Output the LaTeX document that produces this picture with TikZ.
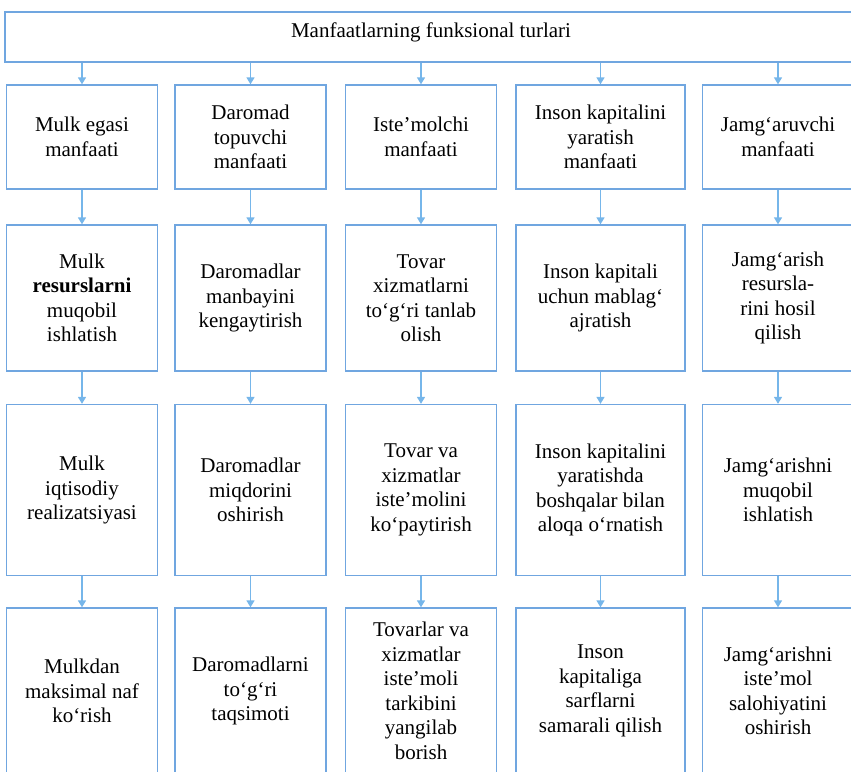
\documentclass[tikz,border=0pt]{standalone}
\usepackage{fontspec}
\setmainfont{Liberation Serif}
\usetikzlibrary{arrows.meta,positioning}
\definecolor{boxblue}{RGB}{112,166,224}
\definecolor{arrowblue}{RGB}{118,182,234}
\tikzset{
	box/.style={draw=boxblue, line width=1.3pt, fill=white, align=center, inner sep=2pt, minimum width=151pt, font=\fontsize{21}{24.5}\selectfont},
	wide/.style={minimum width=169pt},
	rowa/.style={box, minimum height=104pt},
	rowb/.style={box, minimum height=146pt},
	rowc/.style={box, minimum height=171pt},
	rowd/.style={box, minimum height=166pt},
	diredge/.style={-{Triangle[width=8pt,length=7pt]}, color=arrowblue, line width=1.4pt}
}

\begin{document}
\begin{tikzpicture}[x=1pt,y=-1pt]
	\useasboundingbox (0,0) rectangle (851,771);
	\clip (0,0) rectangle (851,771);
	
	\node[box, minimum width=852pt, minimum height=50pt, text depth=13pt] (t) at (431,37) {Manfaatlarning funksional turlari};
	
	% first row
	\node[rowa] (a1) at (82,137) {Mulk egasi\\manfaati};
	\node[rowa] (a2) at (250.5,137) {Daromad\\topuvchi\\manfaati};
	\node[rowa] (a3) at (421,137) {Iste’molchi\\manfaati};
	\node[rowa,wide] (a4) at (600.5,137) {Inson kapitalini\\yaratish\\manfaati};
	\node[rowa] (a5) at (778,137) {Jamg‘aruvchi\\manfaati};
	
	% second row
	\node[rowb] (b1) at (82,298) {Mulk\\\textbf{resurslarni}\\muqobil\\ishlatish};
	\node[rowb] (b2) at (250.5,298) {Daromadlar\\manbayini\\kengaytirish};
	\node[rowb] (b3) at (421,298) {Tovar\\xizmatlarni\\to‘g‘ri tanlab\\olish};
	\node[rowb,wide] (b4) at (600.5,298) {Inson kapitali\\uchun mablag‘\\ajratish};
	\node[rowb] (b5) at (778,298) {Jamg‘arish\\resursla-\\rini hosil\\qilish};
	
	% third row
	\node[rowc] (c1) at (82,490) {Mulk\\iqtisodiy\\realizatsiyasi};
	\node[rowc] (c2) at (250.5,490) {Daromadlar\\miqdorini\\oshirish};
	\node[rowc] (c3) at (421,490) {Tovar va\\xizmatlar\\iste’molini\\ko‘paytirish};
	\node[rowc,wide] (c4) at (600.5,490) {Inson kapitalini\\yaratishda\\boshqalar bilan\\aloqa o‘rnatish};
	\node[rowc] (c5) at (778,490) {Jamg‘arishni\\muqobil\\ishlatish};
	
	% fourth row
	\node[rowd] (d1) at (82,691) {Mulkdan\\maksimal naf\\ko‘rish};
	\node[rowd] (d2) at (250.5,691) {Daromadlarni\\to‘g‘ri\\taqsimoti};
	\node[rowd] (d3) at (421,691) {Tovarlar va\\xizmatlar\\iste’moli\\tarkibini\\yangilab\\borish};
	\node[rowd,wide] (d4) at (600.5,691) {Inson\\kapitaliga\\sarflarni\\samarali qilish};
	\node[rowd] (d5) at (778,691) {Jamg‘arishni\\iste’mol\\salohiyatini\\oshirish};
	
	\draw (t.south -| a1.north) edge[diredge] (a1.north)
		(t.south -| a2.north) edge[diredge] (a2.north)
		(t.south -| a3.north) edge[diredge] (a3.north)
		(t.south -| a4.north) edge[diredge] (a4.north)
		(t.south -| a5.north) edge[diredge] (a5.north);
	\draw (a1) edge[diredge] (b1) (a2) edge[diredge] (b2) (a3) edge[diredge] (b3)
		(a4) edge[diredge] (b4) (a5) edge[diredge] (b5);
	\draw (b1) edge[diredge] (c1) (b2) edge[diredge] (c2) (b3) edge[diredge] (c3)
		(b4) edge[diredge] (c4) (b5) edge[diredge] (c5);
	\draw (c1) edge[diredge] (d1) (c2) edge[diredge] (d2) (c3) edge[diredge] (d3)
		(c4) edge[diredge] (d4) (c5) edge[diredge] (d5);
	
\end{tikzpicture}
\end{document}
